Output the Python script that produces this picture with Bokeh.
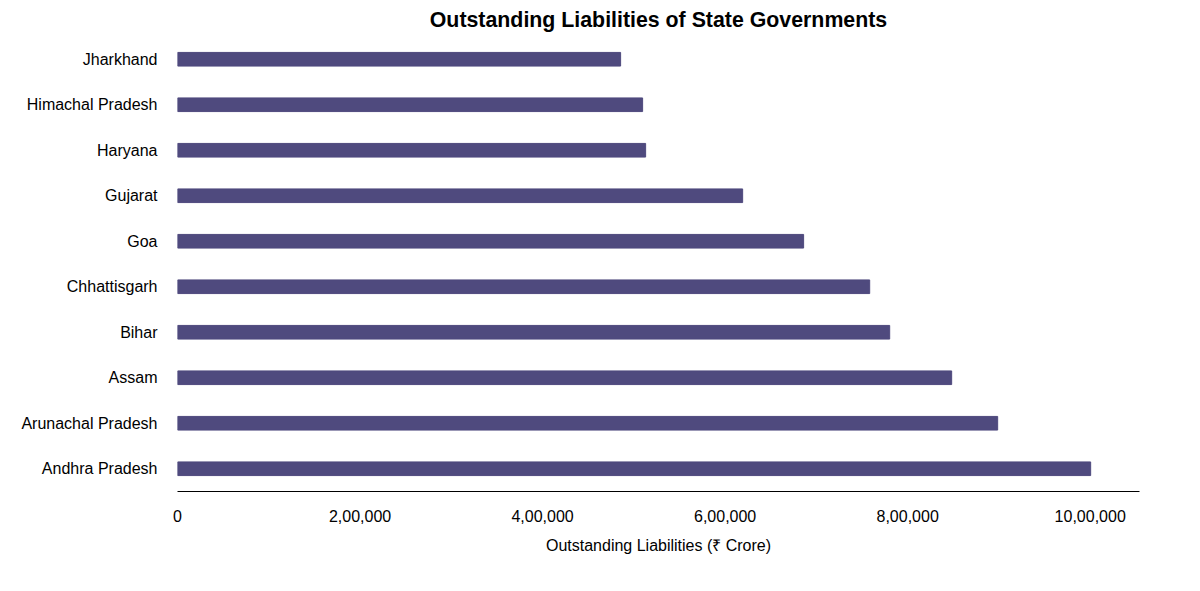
from bokeh.plotting import figure
from bokeh.models import Range1d, FixedTicker, Title, Label
from bokeh.embed import file_html
from bokeh.resources import INLINE

states = ["Andhra Pradesh", "Arunachal Pradesh", "Assam", "Bihar", "Chhattisgarh",
          "Goa", "Gujarat", "Haryana", "Himachal Pradesh", "Jharkhand"]
values = [1000500, 898600, 848200, 780300, 758400, 686000, 619200, 512900, 509600, 485500]
ticks = [0, 200000, 400000, 600000, 800000, 1000000]
tick_labels = ["0", "2,00,000", "4,00,000", "6,00,000", "8,00,000", "10,00,000"]

p = figure(frame_width=962, frame_height=455, y_range=states, x_range=Range1d(0, 1054000),
           output_backend="svg", toolbar_location=None,
           min_border_left=177, min_border_right=45, min_border_top=6, min_border_bottom=70)
p.title = Title(text="Outstanding Liabilities of State Governments", align="center",
                text_font="Liberation Sans", text_font_size="16pt", text_font_style="bold",
                text_color="#000000")
p.hbar(y=states, right=values, height=0.3, color="#4f4a7e")
p.xgrid.visible = False
p.ygrid.visible = False
p.outline_line_color = None
p.border_fill_color = "white"
p.xaxis.ticker = FixedTicker(ticks=ticks)
p.xaxis.major_label_overrides = {t: l for t, l in zip(ticks, tick_labels)}
p.xaxis.axis_label = "Outstanding Liabilities (₹ Crore)"
for ax in (p.xaxis, p.yaxis):
    ax.major_label_text_font = "Liberation Sans"
    ax.major_label_text_font_size = "12pt"
    ax.major_label_text_color = "#000000"
    ax.major_tick_line_color = None
    ax.minor_tick_line_color = None
p.xaxis.axis_label_text_font = "Liberation Sans"
p.xaxis.axis_label_text_font_size = "12pt"
p.xaxis.axis_label_text_font_style = "normal"
p.xaxis.axis_label_text_color = "#000000"
p.xaxis.axis_label_standoff = 12
p.xaxis.axis_line_color = "#000000"
p.yaxis.axis_line_color = None
p.yaxis.major_label_standoff = 14
p.xaxis.major_label_standoff = 12
src = Label(x=-172, y=-70, x_units="screen", y_units="screen", text="Source: RBI, 1 Finance Research",
            text_font="Liberation Sans", text_font_size="11pt", text_color="#000000")
p.add_layout(src)
open("out.html", "w").write(file_html(p, INLINE))
